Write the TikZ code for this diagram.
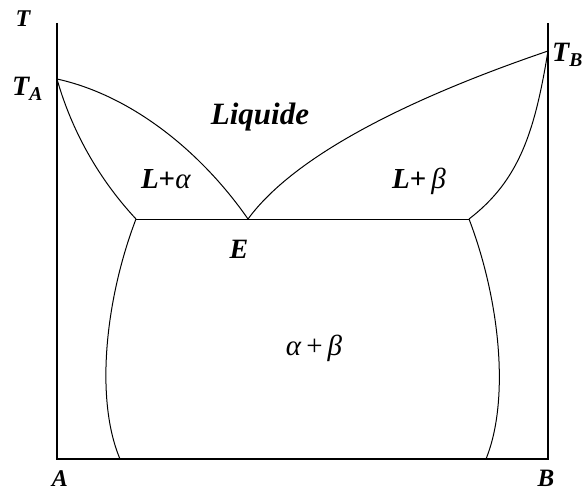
\documentclass[tikz,border=0pt]{standalone}
\usepackage{fontspec}
\setmainfont{Liberation Serif}
\begin{document}
\begin{tikzpicture}[x=1pt,y=-1pt,
  axis/.style={line width=2.2pt},
  curve/.style={line width=1pt},
  lbl/.style={inner sep=0pt,font=\bfseries\itshape}]
\useasboundingbox (0,0) rectangle (584,492);
% key points
\coordinate (top L) at (57,23);
\coordinate (bot L) at (57,459);
\coordinate (bot R) at (548,459);
\coordinate (top R) at (548,23);
\coordinate (TA) at (57,79);
\coordinate (TB) at (548,51);
\coordinate (E) at (248,219);
\coordinate (SL) at (136,219);
\coordinate (SR) at (469,219);
\coordinate (BL) at (120,459);
\coordinate (BR) at (486,459);
% axes
\draw[axis] (top L) -- (bot L) -- (bot R) -- (top R);
% eutectic line
\draw[curve] (SL) -- (SR);
% liquidus
\draw[curve] (TA) .. controls (130,95) and (200,150) .. (E);
\draw[curve] (TB) .. controls (410,98) and (295,155) .. (E);
% solidus
\draw[curve] (TA) .. controls (70,125) and (95,175) .. (SL);
\draw[curve] (TB) .. controls (535,130) and (520,180) .. (SR);
% solvus
\draw[curve] (SL) .. controls (105,300) and (95,400) .. (BL);
\draw[curve] (SR) .. controls (500,300) and (510,400) .. (BR);
% labels
\node[lbl,anchor=base,font=\fontsize{24}{26}\selectfont\bfseries\itshape] (lT) at (23,27) {T};
\node[lbl,anchor=base west,font=\fontsize{28}{30}\selectfont\bfseries\itshape] (lTA) at (12,96) {T\textsubscript{A}};
\node[lbl,anchor=base west,font=\fontsize{28}{30}\selectfont\bfseries\itshape] (lTB) at (552,62) {T\textsubscript{B}};
\node[lbl,anchor=base,font=\fontsize{24}{26}\selectfont\bfseries\itshape] (lA) at (60,486) {A};
\node[lbl,anchor=base,font=\fontsize{25}{27}\selectfont\bfseries\itshape] (lB) at (546,486) {B};
\node[lbl,anchor=base,font=\fontsize{28}{30}\selectfont\bfseries\itshape] (lE) at (239,258) {E};
\node[lbl,anchor=base,font=\fontsize{31}{33}\selectfont\bfseries\itshape] (liq) at (260,125) {Liquide};
\node[lbl,anchor=base,font=\fontsize{29}{31}\selectfont] (la) at (166,189) {\textbf{\textit{L}+}\textit{α}};
\node[lbl,anchor=base,font=\fontsize{29}{31}\selectfont] (lb) at (419,189) {\textbf{\textit{L}+}\,\textit{β}};
\node[lbl,anchor=base,font=\fontsize{29}{31}\selectfont] (ab) at (314,355) {\textit{α}\,+\,\textit{β}};
\end{tikzpicture}
\end{document}
